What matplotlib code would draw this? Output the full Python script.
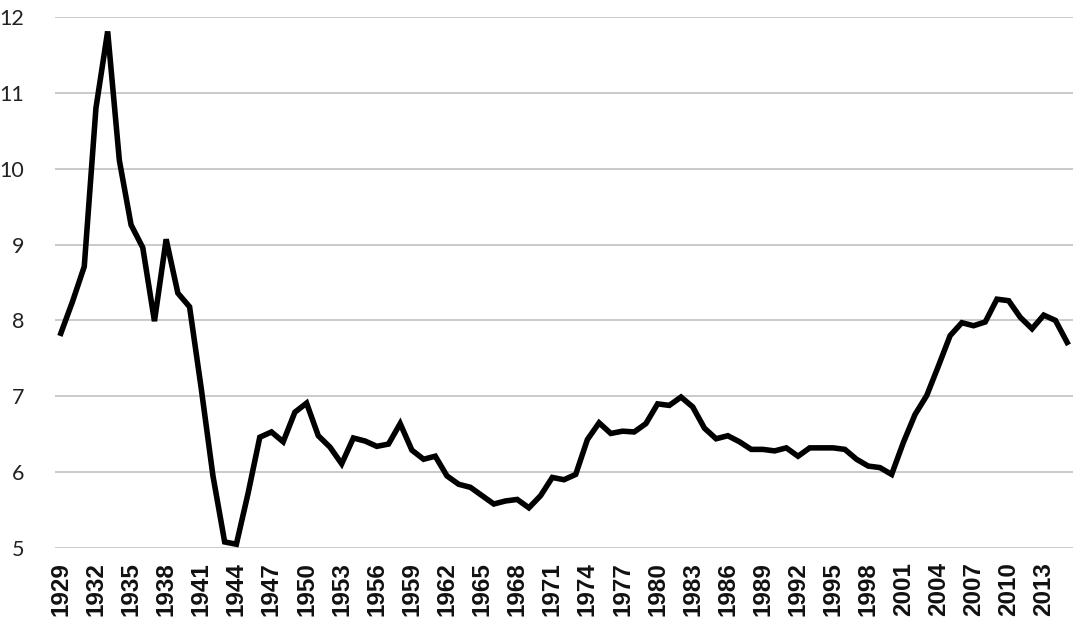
import numpy as np
import matplotlib
matplotlib.use("Agg")
import matplotlib.pyplot as plt

# Datos
years = np.arange(1929, 2016)
values = [
    7.83, 8.25, 8.71, 10.80, 11.81, 10.11, 9.26, 8.96, 7.99, 9.07,   # 1929-1938
    8.36, 8.18, 7.10, 5.95, 5.08, 5.05, 5.72, 6.46, 6.53, 6.40,      # 1939-1948
    6.79, 6.91, 6.48, 6.33, 6.11, 6.45, 6.41, 6.34, 6.37, 6.64,      # 1949-1958
    6.29, 6.17, 6.21, 5.95, 5.84, 5.80, 5.69, 5.58, 5.62, 5.64,      # 1959-1968
    5.53, 5.69, 5.93, 5.90, 5.97, 6.43, 6.65, 6.51, 6.54, 6.53,      # 1969-1978
    6.64, 6.90, 6.88, 6.99, 6.86, 6.58, 6.44, 6.48, 6.40, 6.30,      # 1979-1988
    6.30, 6.28, 6.32, 6.21, 6.32, 6.32, 6.32, 6.30, 6.17, 6.08,      # 1989-1998
    6.06, 5.97, 6.39, 6.76, 7.01, 7.40, 7.80, 7.97, 7.93, 7.98,      # 1999-2008
    8.28, 8.26, 8.04, 7.89, 8.07, 8.00, 7.71,                        # 2009-2015
]
xticks = list(range(1929, 2014, 3))
yticks = [5, 6, 7, 8, 9, 10, 11, 12]

fig = plt.figure(figsize=(10.8, 6.36), dpi=100)
ax = fig.add_axes([55 / 1080, 1 - 548 / 636, (1073 - 55) / 1080, (548 - 17) / 636])

ax.plot(years, values, color='black', lw=4.0, solid_joinstyle='miter', zorder=3)

ax.set_xlim(1928.5, 2015.5)
ax.set_ylim(5, 12)
ax.set_yticks(yticks)
ax.set_yticklabels([str(v) for v in yticks], fontsize=15.5, family='Lato', color='#222222')
ax.set_xticks(xticks)
ax.set_xticklabels([str(y) for y in xticks], rotation=90, fontsize=17.5,
                   family='Liberation Sans', fontweight='bold', color='#111111')
ax.tick_params(axis='y', length=0, pad=22)
ax.tick_params(axis='x', length=0, pad=10)

ax.grid(axis='y', color='#c6c6c6', lw=1.3)
ax.set_axisbelow(True)
for s in ax.spines.values():
    s.set_visible(False)

fig.savefig('out.png', dpi=100)
